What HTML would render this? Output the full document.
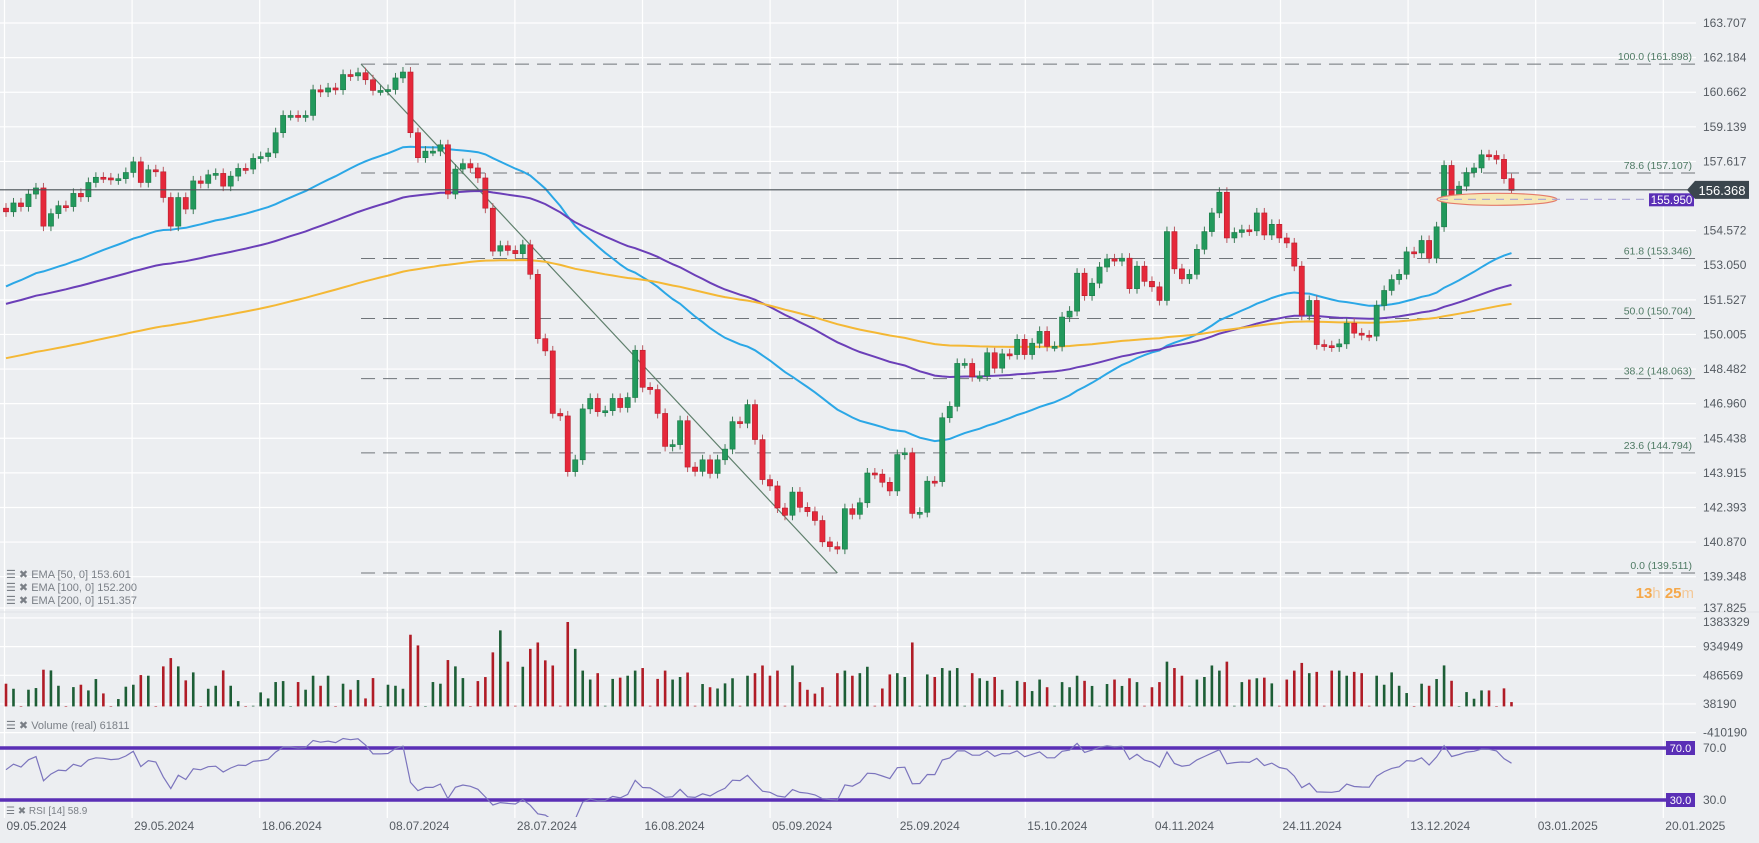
<!DOCTYPE html>
<html><head><meta charset="utf-8"><style>
html,body{margin:0;padding:0;background:#eceef1;}
svg{display:block;font-family:"Liberation Sans",sans-serif;}
</style></head><body>
<svg id="chart" width="1759" height="843" viewBox="0 0 1759 843" xmlns="http://www.w3.org/2000/svg">
<rect x="0" y="0" width="1759" height="843" fill="#eceef1"/>
<g id="grid"></g>
<g id="fib"></g>
<g id="emas"></g>
<g id="candles"></g>
<g id="vol"></g>
<g id="rsi"></g>
<g id="axes"></g>
<g id="legend">
  <text x="6" y="578" font-size="11" fill="#7a7f86">☰ ✖ EMA [50, 0] 153.601</text>
  <text x="6" y="591" font-size="11" fill="#7a7f86">☰ ✖ EMA [100, 0] 152.200</text>
  <text x="6" y="604" font-size="11" fill="#7a7f86">☰ ✖ EMA [200, 0] 151.357</text>
  <text x="6" y="729" font-size="11" fill="#7a7f86">☰ ✖ Volume (real) 61811</text>
  <text x="6" y="814" font-size="10" fill="#7a7f86">☰ ✖ RSI [14] 58.9</text>
</g>
<text x="1694" y="598" font-size="15" text-anchor="end" font-weight="bold" fill="#f5a84a">13<tspan fill="#f3c99a" font-weight="normal">h </tspan>25<tspan fill="#f3c99a" font-weight="normal">m</tspan></text>
</svg>
<script>
const closes = [155.40,155.79,155.63,156.18,156.45,154.77,155.32,155.67,155.63,156.21,156.06,156.69,156.92,156.89,156.81,156.86,157.13,157.60,156.69,157.25,
157.16,156.03,154.77,156.03,155.52,156.76,156.65,157.03,157.09,156.53,156.97,157.31,157.28,157.75,157.83,157.99,158.88,159.64,159.64,159.58,
159.64,160.77,160.67,160.85,160.77,161.44,161.38,161.52,161.21,160.74,160.74,160.78,161.29,161.55,158.88,157.78,158.07,158.07,158.35,156.18,
157.28,157.52,157.33,156.89,155.56,153.67,153.91,153.70,153.56,153.95,152.65,149.82,149.28,146.53,146.42,143.97,144.49,146.73,147.19,146.61,
146.65,147.19,146.79,147.23,149.31,147.68,147.58,146.53,145.08,145.16,146.21,144.17,143.98,144.49,143.89,144.49,144.96,146.17,146.10,146.92,
145.38,143.62,143.34,142.37,142.05,143.07,142.40,142.21,141.82,140.88,140.67,140.56,142.34,142.09,142.60,143.91,143.86,143.50,143.12,144.72,
144.80,142.13,142.18,143.55,143.53,146.34,146.84,148.73,148.73,148.15,148.18,149.20,148.52,149.15,149.12,149.79,149.12,149.62,150.14,149.48,
149.48,150.77,151.03,152.70,151.71,152.26,152.97,153.33,153.23,153.36,152.02,153.01,152.34,152.10,151.50,154.53,152.89,152.45,152.65,153.75,
154.53,155.35,156.26,154.25,154.49,154.61,154.56,155.35,154.38,154.85,154.25,154.03,153.01,150.85,151.50,149.56,149.51,149.46,149.59,150.50,
150.06,149.97,149.93,151.28,151.94,152.42,152.65,153.64,153.59,154.14,153.36,154.74,157.44,156.03,156.53,157.13,157.33,157.91,157.88,157.71,
156.86,156.34];
const firstOpen = 155.56;
const volumesK = [355,276,5,261,287,574,563,323,5,302,339,250,428,203,5,115,308,339,490,480,
5,626,756,626,407,532,5,276,323,563,323,83,5,10,219,125,381,396,3,381,
261,480,323,480,3,355,261,412,125,443,3,339,323,276,1121,954,3,381,355,725,
626,443,3,396,459,845,1189,700,10,620,900,1000,720,640,10,1320,900,560,420,520,
10,430,450,480,560,600,10,430,560,420,460,530,10,350,300,280,360,440,10,480,
520,640,480,560,10,640,380,260,200,300,10,520,560,480,520,620,10,280,500,520,
460,1000,10,500,460,600,560,600,10,520,440,400,460,260,10,400,380,240,420,300,
10,380,300,480,400,320,10,350,420,320,440,380,10,300,380,700,600,480,10,420,
460,640,560,700,10,380,420,440,450,360,10,420,560,680,520,540,10,560,560,480,
540,520,10,480,339,532,323,209,5,355,323,428,641,401,5,224,120,250,250,5,
282,68];
const emaPeriods = [50,100,200];
const emaSeeds = [152.12,151.35,148.96];
const emaColors = ['#2ba7e6','#6b3fb8','#f4b835'];
const fibLevels = [100.0,78.6,61.8,50.0,38.2,23.6,0.0];
const fibHigh = 161.898, fibLow = 139.511;
const fibHighIdx = 47, fibLowIdx = 111;
const priceTicks = [163.707,162.184,160.662,159.139,157.617,154.572,153.050,151.527,150.005,148.482,146.960,145.438,143.915,142.393,140.870,139.348,137.825];
const volTicks = [1383329,934949,486569,38190,-410190];
const dateLabels = ['09.05.2024','29.05.2024','18.06.2024','08.07.2024','28.07.2024','16.08.2024','05.09.2024','25.09.2024','15.10.2024','04.11.2024','24.11.2024','13.12.2024','03.01.2025','20.01.2025'];
const lastPrice = 156.368, markPrice = 155.950;
const rsiLevels = [70,30];

const NS='http://www.w3.org/2000/svg';
function mk(tag, attrs, parent){const e=document.createElementNS(NS,tag);for(const k in attrs)e.setAttribute(k,attrs[k]);parent.appendChild(e);return e;}
const xI = i => 6 + i*7.49;
const yP = p => 23 + (163.707-p)*22.73;
const yV = v => 706.4 - v/15641;
const yR = r => 748 + (70-r)*1.3;
const plotR = 1696;
const G=document.getElementById('grid'), A=document.getElementById('axes');

// grid
for(let k=0;k<14;k++){const x=4.5+127.6*k;
 const l=mk('line',{x1:x,y1:0,x2:x,y2:818,stroke:'#ffffff','stroke-width':1.2},G);
 
 
 const t=mk('text',{x:x+2,y:830,'font-size':12,fill:'#555b62'},A); t.textContent=dateLabels[k];
 
 
}
priceTicks.forEach((p,k)=>{const y=(p===137.825)?608:yP(p);
 const l=mk('line',{x1:0,y1:y,x2:plotR,y2:y,stroke:'#ffffff','stroke-width':1.2},G);
 
 
 const t=mk('text',{x:1703,y:y+4,'font-size':12,fill:'#555b62'},A); t.textContent=p.toFixed(3);
 
 
});
volTicks.forEach(v=>{const y=yV(v);
 const l=mk('line',{x1:0,y1:y,x2:plotR,y2:y,stroke:'#ffffff','stroke-width':1.2},G);
 
 
 const t=mk('text',{x:1703,y:y+(v===1383329?8:4),'font-size':12,fill:'#555b62'},A); t.textContent=String(v);
 
 
});
const sep=mk('line',{x1:0,y1:612,x2:1759,y2:612,stroke:'#dfe2e6','stroke-width':1},G);



// fib
const F=document.getElementById('fib');
fibLevels.forEach(l=>{const p=fibLow+(fibHigh-fibLow)*l/100;const y=yP(p);
 const ln=mk('line',{x1:xI(fibHighIdx)+3,y1:y,x2:plotR,y2:y,stroke:'#6f7479','stroke-width':1,'stroke-dasharray':'14,8'},F);
 
 
 const t=mk('text',{x:1692,y:y-4,'font-size':10.5,fill:'#4f7a64','text-anchor':'end'},F);
 t.textContent=l.toFixed(1)+' ('+p.toFixed(3)+')';
 
 
});
const tl=mk('line',{x1:xI(fibHighIdx)+3,y1:yP(fibHigh),x2:xI(fibLowIdx),y2:yP(fibLow),stroke:'#5f7f6c','stroke-width':1.2},F);



// last price line
const lp=mk('line',{x1:0,y1:yP(lastPrice),x2:1690,y2:yP(lastPrice),stroke:'#4a5056','stroke-width':1.2},A);



// EMAs
const E=document.getElementById('emas');
emaPeriods.forEach((n,k)=>{const a=2/(n+1);let e=emaSeeds[k];const pts=[];
 closes.forEach((c,i)=>{if(i>0)e=a*c+(1-a)*e;pts.push(xI(i).toFixed(1)+','+yP(e).toFixed(1));});
 const pl=mk('polyline',{points:pts.join(' '),fill:'none',stroke:emaColors[k],'stroke-width':2},E);
 
 
});

// candles
const C=document.getElementById('candles');
closes.forEach((c,i)=>{const o=i?closes[i-1]:firstOpen;const up=c>=o;
 const col=up?'#22995c':'#e5283a';const x=xI(i);
 const hi=Math.max(o,c)+0.22, lo=Math.min(o,c)-0.22;
 const w=mk('line',{x1:x,y1:yP(hi),x2:x,y2:yP(lo),stroke:up?'#3f7a58':'#b75a62','stroke-width':1},C);
 
 
 const top=yP(Math.max(o,c)),h=Math.max(2,yP(Math.min(o,c))-top);
 const b=mk('rect',{x:x-2.6,y:top,width:5.2,height:h,fill:col,stroke:up?'#1d7a48':'#b81d2c','stroke-width':0.6},C);
 
 
});

// volume
const V=document.getElementById('vol');
volumesK.forEach((v,i)=>{const o=i?closes[i-1]:firstOpen;const up=closes[i]>=o;
 const y=yV(v*1000);const b=mk('rect',{x:xI(i)-1.3,y:y,width:2.6,height:Math.max(0.5,706.4-y),fill:up?'#1d5e36':'#b01c26'},V);
 
 
});

// RSI
const R=document.getElementById('rsi');
mk('clipPath',{id:'rc'},R).appendChild(document.createElementNS(NS,'rect'));
const cr=R.querySelector('clipPath rect');cr.setAttribute('x',0);cr.setAttribute('y',735);cr.setAttribute('width',1696);cr.setAttribute('height',82);
let ag=0.16,al=0.14;const rp=[];
closes.forEach((c,i)=>{if(i>0){const d=c-closes[i-1];ag=(ag*13+Math.max(d,0))/14;al=(al*13+Math.max(-d,0))/14;}
 const r=100-100/(1+ag/al);rp.push(xI(i).toFixed(1)+','+yR(r).toFixed(1));});
rsiLevels.forEach(l=>{const y=yR(l);
 const ln=mk('line',{x1:0,y1:y,x2:1668,y2:y,stroke:'#5a2fb6','stroke-width':3.5},R);
 
 
 const bx=mk('rect',{x:1666,y:y-7,width:29,height:14,fill:'#5a2fb6'},R);
 
 
 const t=mk('text',{x:1680.5,y:y+4,'font-size':11,fill:'#fff','text-anchor':'middle'},R);t.textContent=l.toFixed(1);
 
 
 const t2=mk('text',{x:1703,y:y+4,'font-size':12,fill:'#555b62'},R);t2.textContent=l.toFixed(1);
 
 
});
const rl=mk('polyline',{points:rp.join(' '),fill:'none',stroke:'#7b74bd','stroke-width':1.2,'clip-path':'url(#rc)'},R);



// marker ellipse + labels
const ym=yP(markPrice);
const el=mk('ellipse',{cx:1497,cy:ym,rx:60,ry:6,fill:'#f6e7b4',stroke:'#e47a6a','stroke-width':1.2},A);


const dl=mk('line',{x1:1440,y1:ym,x2:1648,y2:ym,stroke:'#a9a3d6','stroke-width':1.2,'stroke-dasharray':'8,6'},A);


const mb=mk('rect',{x:1649,y:ym-6,width:45,height:13,fill:'#5a2fb6'},A);


const mt=mk('text',{x:1671.5,y:ym+4.5,'font-size':11.5,fill:'#fff','text-anchor':'middle'},A);mt.textContent=markPrice.toFixed(3);


const yl=yP(lastPrice);
const pb=mk('path',{d:`M1687 ${yl} L1695 ${yl-9} L1749 ${yl-9} L1749 ${yl+9} L1695 ${yl+9} Z`,fill:'#3b464e'},A);


const pt=mk('text',{x:1722,y:yl+5,'font-size':13,fill:'#fff','text-anchor':'middle'},A);pt.textContent=lastPrice.toFixed(3);


</script>
</body></html>
